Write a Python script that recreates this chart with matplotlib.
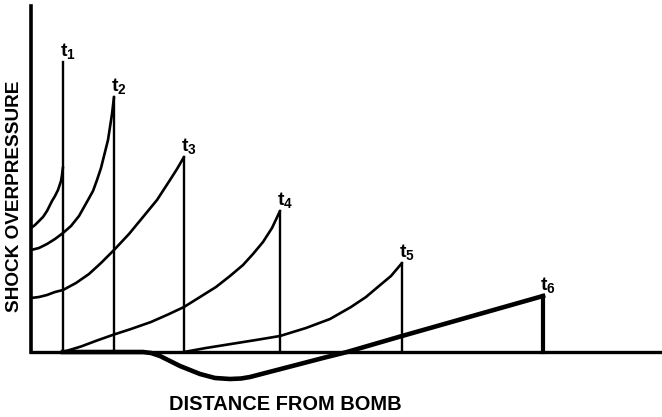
import matplotlib.pyplot as plt
import numpy as np

plt.rcParams['font.family'] = ['Liberation Sans', 'DejaVu Sans']
plt.rcParams['mathtext.fontset'] = 'custom'
plt.rcParams['mathtext.bf'] = 'Liberation Sans:bold'
plt.rcParams['mathtext.rm'] = 'Liberation Sans:bold'

# shock front positions (distance) and peak overpressure at times t1..t6
labels = ["1", "2", "3", "4", "5", "6"]
front_x = [32, 83, 153, 249, 371, 512]
front_peak = [290, 255, 195, 141, 89, 56]

# pressure profile behind the front for each time (distance, overpressure)
t1_x = [0, 4, 8, 12, 16, 21, 24, 27, 30, 31, 32]
t1_p = [124, 127, 131, 135, 141, 151, 156, 162, 171, 177, 185]

t2_x = [0, 8, 16, 24, 32, 40, 48, 57, 62, 66, 70, 74, 77, 79, 81, 83]
t2_p = [102, 104, 108, 113, 119, 126, 136, 152, 161, 172, 184, 200, 212, 225, 238, 255]

t3_x = [0, 8, 16, 24, 32, 45, 58, 70, 83, 98, 112, 126, 139, 146, 153]
t3_p = [54, 55, 57, 60, 62, 69, 78, 89, 102, 118, 135, 152, 172, 183, 195]

t4_x = [32, 50, 66, 83, 100, 120, 137, 153, 169, 185, 199, 212, 222, 232, 241, 249]
t4_p = [0, 5.5, 11.5, 17.5, 23, 30, 37.5, 45, 55, 65, 76, 87, 98, 110, 124, 141]

t5_x = [153, 175, 200, 225, 249, 275, 299, 320, 335, 348, 360, 371]
t5_p = [0, 4, 8, 12, 16, 24, 33, 45, 55, 66, 76, 89]

# t6 includes the negative (suction) phase
t6_x = [32, 112, 120, 129, 139, 149, 159, 169, 184, 199, 210, 219, 244, 269, 292, 316, 371, 512]
t6_p = [0, 0, -1, -4, -9, -14, -18, -22, -26, -27, -26.5, -25, -18.5, -12, -6, 0, 16, 56]

fig = plt.figure(figsize=(6.62, 4.17), dpi=100)
ax = fig.add_axes([0, 0, 1, 1])
ax.set_xlim(-31, 631)
ax.set_ylim(-65, 352)

curves = [(t1_x, t1_p), (t2_x, t2_p), (t3_x, t3_p), (t4_x, t4_p), (t5_x, t5_p)]
for cx, cp in curves:
    ax.plot(cx, cp, color="black", lw=1.9, solid_capstyle="round", solid_joinstyle="round")
ax.plot(t6_x, t6_p, color="black", lw=3.3, solid_joinstyle="round")

for i, (fx, fp) in enumerate(zip(front_x, front_peak)):
    lw = 3.0 if i == 5 else 1.7
    ax.plot([fx, fx], [0, fp], color="black", lw=lw)
    ax.text(fx - 3, fp + 1, r"$\mathbf{t_{%s}}$" % labels[i], fontsize=14,
            ha="left", va="bottom")

# axes drawn as thick lines like the original figure
for s in ["top", "right"]:
    ax.spines[s].set_visible(False)
ax.spines["left"].set_position(("data", 0))
ax.spines["bottom"].set_position(("data", 0))
ax.spines["left"].set_bounds(0, 346)
ax.spines["bottom"].set_bounds(0, 631)
ax.spines["left"].set_linewidth(2.6)
ax.spines["bottom"].set_linewidth(2.4)
ax.set_xticks([])
ax.set_yticks([])
ax.patch.set_visible(False)

ax.text(-16, 156, "SHOCK OVERPRESSURE", rotation=90, ha="center", va="center",
        fontsize=13.7, fontweight="bold")
ax.text(254, -53, "DISTANCE FROM BOMB", ha="center", va="center",
        fontsize=14.4, fontweight="bold")

plt.savefig("out.png", dpi=100)
plt.close()
